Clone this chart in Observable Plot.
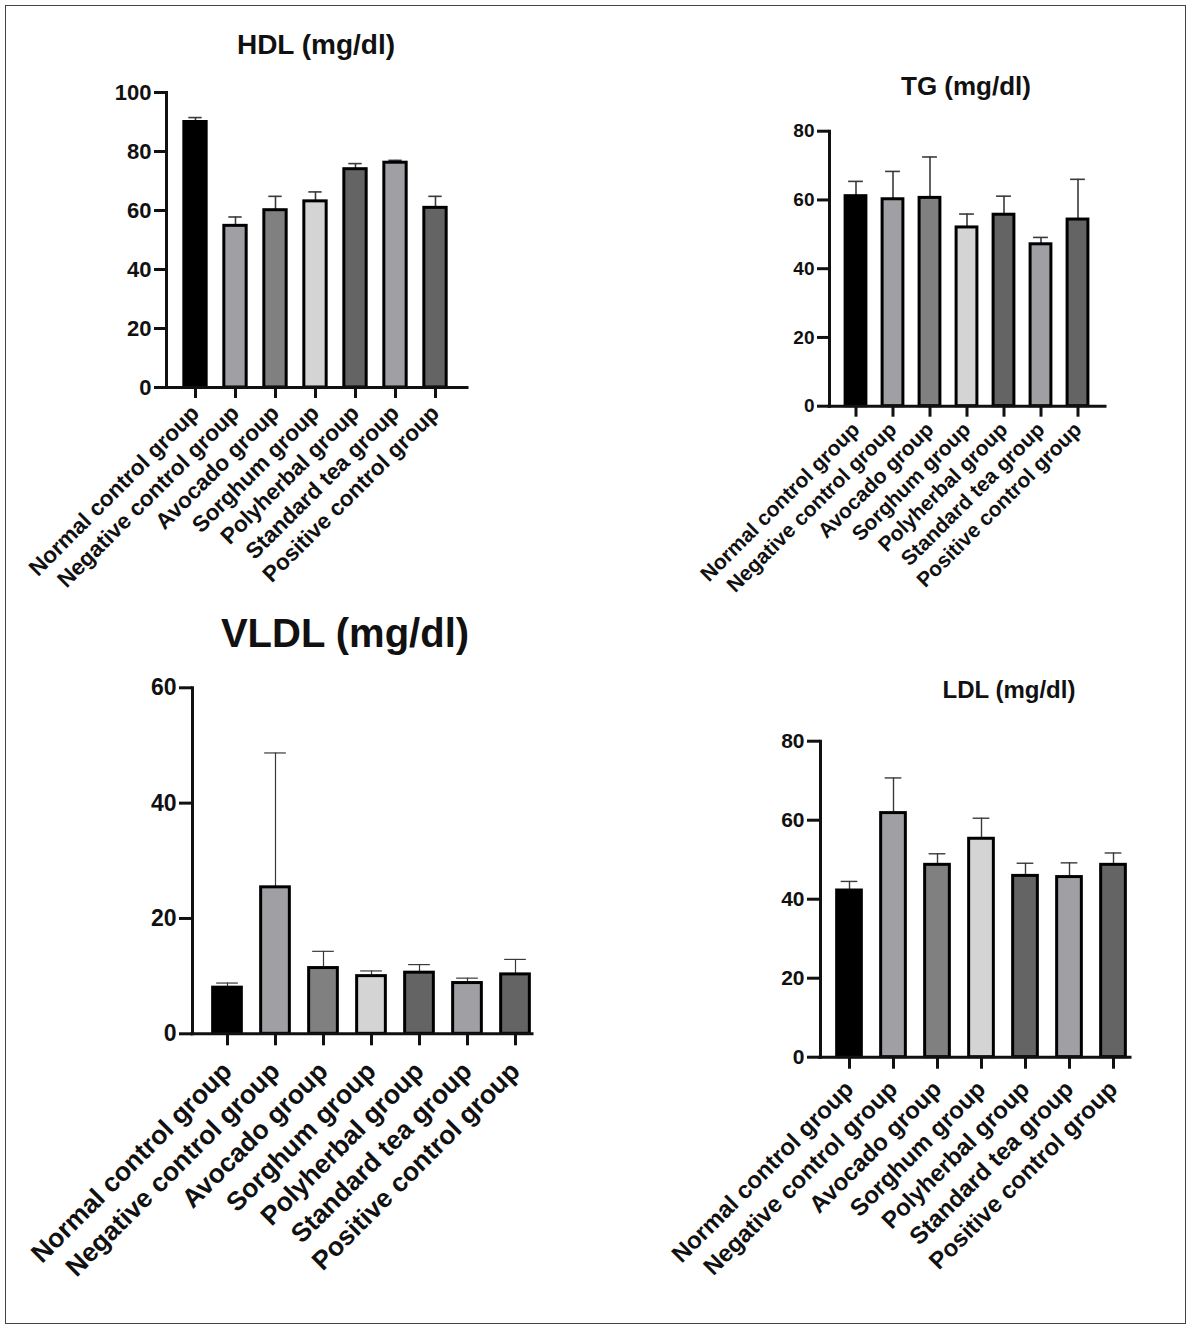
<!DOCTYPE html>
<html>
<head>
<meta charset="utf-8">
<script src="https://cdn.jsdelivr.net/npm/d3@7"></script>
<script src="https://cdn.jsdelivr.net/npm/@observablehq/plot@0.6"></script>
<style>
  html, body { margin: 0; padding: 0; background: #fff; }
  #page { position: relative; width: 1188px; height: 1326px; overflow: hidden; background: #fff;
          font-family: "Liberation Sans", Arial, sans-serif; }
  #border { position: absolute; left: 5px; top: 5px; width: 1181px; height: 1319px;
            border: 1px solid #444; box-sizing: border-box; }
  .panel { position: absolute; }
  .title { position: absolute; transform: translate(-50%, -50%); white-space: nowrap;
           font-weight: bold; color: #111; line-height: 1; }
</style>
</head>
<body>
<div id="page"><div id="border"></div></div>
<script>
// ---- data ----
const groups = ["Normal control group", "Negative control group", "Avocado group", "Sorghum group",
                "Polyherbal group", "Standard tea group", "Positive control group"];
const barColors = ["#000000", "#a0a0a4", "#808080", "#d4d4d4", "#646464", "#a0a0a4", "#646464"];

const hdlMean = [90.0, 54.8, 60.1, 63.1, 74.0, 76.2, 60.9];
const hdlSD   = [1.5, 3.0, 4.7, 3.2, 1.9, 0.8, 3.9];
const hdlTicks = [0, 20, 40, 60, 80, 100];

const tgMean = [61.1, 60.2, 60.6, 52.0, 55.7, 47.1, 54.3];
const tgSD   = [4.3, 8.1, 11.9, 3.9, 5.4, 2.0, 11.7];
const tgTicks = [0, 20, 40, 60, 80];

const vldlMean = [8.0, 25.4, 11.4, 10.0, 10.6, 8.8, 10.3];
const vldlSD   = [0.8, 23.3, 2.9, 0.9, 1.4, 0.85, 2.6];
const vldlTicks = [0, 20, 40, 60];

const ldlMean = [42.2, 61.8, 48.7, 55.3, 45.9, 45.6, 48.7];
const ldlSD   = [2.3, 8.9, 2.8, 5.2, 3.2, 3.6, 3.0];
const ldlTicks = [0, 20, 40, 60, 80];

const titles = ["HDL (mg/dl)", "TG (mg/dl)", "VLDL (mg/dl)", "LDL (mg/dl)"];

// ---- layout (page pixel coordinates) ----
const page = document.getElementById("page");

function panel(mean, sd, ticks, L) {
  const data = groups.map((g, i) => ({group: g, mean: mean[i], sd: sd[i], color: barColors[i]}));
  const n = groups.length;
  const x0 = L.c0 - L.step / 2 - L.left;
  const x1 = L.c0 + (n - 1) * L.step + L.step / 2 - L.left;
  const barInset = (L.step - L.barW) / 2;
  const capInset = (L.step - L.capW) / 2;
  const chart = Plot.plot({
    width: L.width,
    height: L.height,
    marginLeft: L.axisX - L.left,
    marginRight: L.left + L.width - L.axisXEnd,
    marginTop: L.yTop - L.top,
    marginBottom: L.top + L.height - L.y0,
    x: {domain: groups, range: [x0, x1], padding: 0},
    y: {domain: [0, ticks[ticks.length - 1]]},
    color: {type: "identity"},
    style: {fontFamily: "'Liberation Sans', Arial, sans-serif", fontWeight: "bold", color: "#111",
            background: "transparent", overflow: "visible"},
    marks: [
      Plot.ruleX(data, {x: "group", y1: "mean", y2: d => d.mean + d.sd, stroke: "#3a3a3a", strokeWidth: L.errW}),
      Plot.tickY(data, {x: "group", y: d => d.mean + d.sd, stroke: "#3a3a3a", strokeWidth: L.errW, inset: capInset}),
      Plot.barY(data, {x: "group", y: "mean", fill: "color", stroke: "#000", strokeWidth: 3,
                       insetLeft: barInset, insetRight: barInset}),
      Plot.axisY({ticks, tickSize: L.tickLen, strokeWidth: 3, fontSize: L.tickFont, tickPadding: 3,
                  label: null, tickFormat: d => String(d)}),
      Plot.axisX({tickSize: L.xTickLen, strokeWidth: 3, tickRotate: -45, fontSize: L.labelFont,
                  tickPadding: L.labelPad, label: null}),
      Plot.ruleY([0], {strokeWidth: 3, strokeLinecap: "square"}),
      Plot.frame({anchor: "left", strokeWidth: 3, strokeLinecap: "square"})
    ]
  });
  chart.classList.add("panel");
  chart.style.left = L.left + "px";
  chart.style.top = L.top + "px";
  page.appendChild(chart);

  const t = document.createElement("div");
  t.className = "title";
  t.textContent = L.title;
  t.style.left = L.tx + "px";
  t.style.top = L.ty + "px";
  t.style.fontSize = L.titleFont + "px";
  page.appendChild(t);
}

panel(hdlMean, hdlSD, hdlTicks, {
  title: titles[0], tx: 316, ty: 45, titleFont: 28,
  left: 10, top: 70, width: 480, height: 540,
  axisX: 166, axisXEnd: 467, y0: 387, yTop: 92,
  c0: 193, step: 40.67, barW: 23, capW: 14, errW: 1.6,
  tickFont: 22, labelFont: 22.5, tickLen: 12, xTickLen: 11, labelPad: 11
});

panel(tgMean, tgSD, tgTicks, {
  title: titles[1], tx: 966, ty: 86, titleFont: 26,
  left: 640, top: 110, width: 520, height: 500,
  axisX: 829, axisXEnd: 1105, y0: 405.7, yTop: 130.7,
  c0: 855, step: 37.2, barW: 21, capW: 15, errW: 1.6,
  tickFont: 19, labelFont: 21, tickLen: 12, xTickLen: 11, labelPad: 9
});

panel(vldlMean, vldlSD, vldlTicks, {
  title: titles[2], tx: 345, ty: 633, titleFont: 40,
  left: 10, top: 660, width: 540, height: 640,
  axisX: 192, axisXEnd: 532, y0: 1033.3, yTop: 687.3,
  c0: 226, step: 48.3, barW: 29, capW: 22, errW: 1.2,
  tickFont: 23, labelFont: 26.5, tickLen: 13, xTickLen: 12, labelPad: 21
});

panel(ldlMean, ldlSD, ldlTicks, {
  title: titles[3], tx: 1009, ty: 690, titleFont: 24,
  left: 640, top: 715, width: 520, height: 590,
  axisX: 820, axisXEnd: 1130, y0: 1056.7, yTop: 740.7,
  c0: 848, step: 44.3, barW: 25, capW: 17, errW: 1.4,
  tickFont: 21, labelFont: 24, tickLen: 13, xTickLen: 12, labelPad: 16
});
</script>
</body>
</html>
